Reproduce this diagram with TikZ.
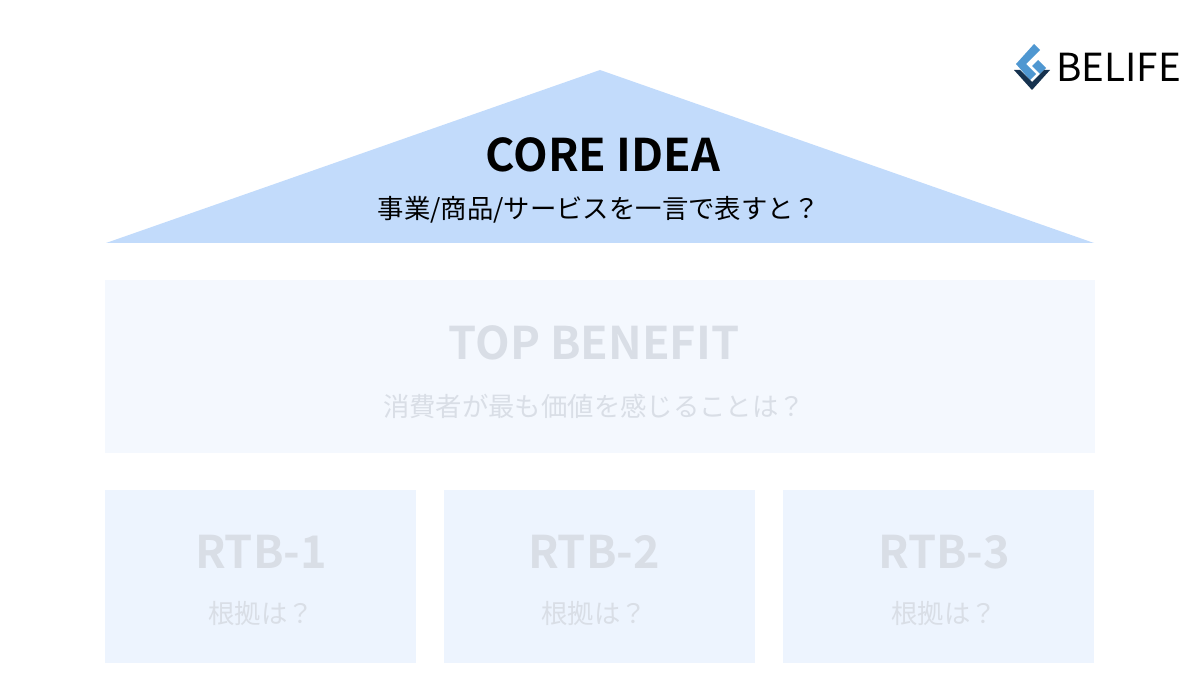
\documentclass[tikz,border=0pt]{standalone}
\usepackage{fontspec}
\setmainfont{Noto Sans CJK JP}
\newfontfamily\jpbold{Noto Sans CJK JP Bold}
\definecolor{roofblue}{HTML}{C2DBFB}
\definecolor{benefitbg}{HTML}{F4F8FE}
\definecolor{rtbbg}{HTML}{EDF4FE}
\definecolor{fadetext}{HTML}{D9DEE6}
\definecolor{logonavy}{HTML}{16324F}
\definecolor{logoblue}{HTML}{4F97D1}
\tikzset{
  title/.style={font=\jpbold\fontsize{25.6}{28}\selectfont},
  sub/.style={font=\fontsize{15}{18}\selectfont},
  block/.style={fill=#1, draw=none},
}
\begin{document}
\begin{tikzpicture}[x=0.2mm, y=-0.2mm]
  \useasboundingbox (0, 0) rectangle (1200, 700);
  % roof
  \fill[roofblue] (106, 243) -- (600, 70) -- (1094, 243) -- cycle;
  \node[title] (core) at (603, 155) {CORE IDEA};
  \node[sub] (coresub) at (599, 210) {事業/商品/サービスを一言で表すと？};
  % top benefit
  \fill[block=benefitbg] (105, 280) rectangle (1095, 453);
  \node[title, text=fadetext] (top) at (594, 343) {TOP BENEFIT};
  \node[sub, text=fadetext] (topsub) at (594, 406) {消費者が最も価値を感じることは？};
  % pillars
  \foreach \i/\x/\tx in {1/105/261, 2/444/594, 3/783/944} {
    \fill[block=rtbbg] (\x, 490) rectangle ++(311, 173);
    \node[title, text=fadetext] (rtb\i) at (\tx, 552) {RTB-\i};
    \node[sub, text=fadetext] (rtbsub\i) at (\tx, 614) {根拠は？};
  }
  % logo
  \fill[logoblue] (1034, 44) -- (1040, 50) -- (1026, 64) -- (1036, 74) -- (1030, 80) -- (1016, 64) -- cycle;
  \fill[logoblue] (1038, 60) -- (1046, 68) -- (1040, 74) -- (1032, 66) -- cycle;
  \fill[logonavy] (1014, 70) -- (1020, 70) -- (1032, 82) -- (1044, 70) -- (1050, 70) -- (1032, 90) -- cycle;
  \node[font=\fontsize{22}{24}\selectfont, text=black, anchor=west, inner sep=0] (brand) at (1056, 67) {BELIFE};
\end{tikzpicture}
\end{document}
